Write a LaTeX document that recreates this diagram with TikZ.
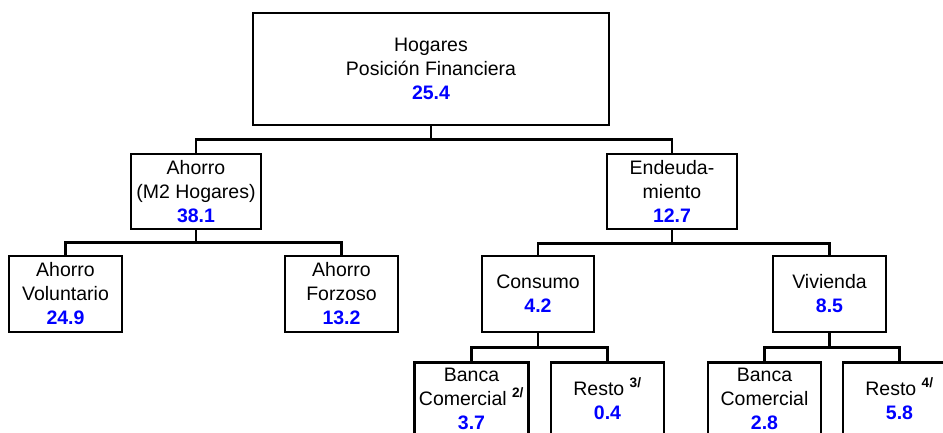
\documentclass[tikz,border=0pt]{standalone}
\usepackage{fontspec}
\setmainfont{Liberation Sans}
\usetikzlibrary{calc}
\definecolor{numblue}{RGB}{0,0,255}
\newcommand{\numv}[1]{{\bfseries\color{numblue}#1}}
\newcommand{\supn}[1]{\textsuperscript{\bfseries #1}}
\begin{document}
\begin{tikzpicture}[x=1pt,y=-1pt,
  box/.style={draw,line width=2.5pt,rectangle,inner sep=0pt,align=center,
    font=\fontsize{19.5}{24}\selectfont},
  link/.style={line width=2.5pt}]
\clip (0,0) rectangle (943,432);
\fill[white] (0,0) rectangle (943,432);
\node[box,minimum width=356pt,minimum height=112pt] (top) at (431,69)
  {Hogares\\Posición Financiera\\\numv{25.4}};
\node[box,minimum width=130pt,minimum height=75pt] (ahorro) at (196,191.5)
  {Ahorro\\(M2 Hogares)\\\numv{38.1}};
\node[box,minimum width=130pt,minimum height=75pt] (endeu) at (672,191.5)
  {Endeuda-\\miento\\\numv{12.7}};
\node[box,minimum width=113pt,minimum height=76pt] (vol) at (65.5,294)
  {Ahorro\\Voluntario\\\numv{24.9}};
\node[box,minimum width=113pt,minimum height=76pt] (forz) at (341.5,294)
  {Ahorro\\Forzoso\\\numv{13.2}};
\node[box,minimum width=112pt,minimum height=76pt] (cons) at (538,294)
  {Consumo\\\numv{4.2}};
\node[box,minimum width=113pt,minimum height=76pt] (viv) at (829.5,294)
  {Vivienda\\\numv{8.5}};
\node[box,minimum width=114pt,minimum height=72pt] (bc1) at (471.5,398.5)
  {Banca\\Comercial \supn{2/}\\\numv{3.7}};
\node[box,minimum width=113pt,minimum height=72pt] (r3) at (607.5,398.5)
  {Resto \supn{3/}\\\numv{0.4}};
\node[box,minimum width=113pt,minimum height=72pt] (bc2) at (764.5,398.5)
  {Banca\\Comercial\\\numv{2.8}};
\node[box,minimum width=113pt,minimum height=72pt] (r4) at (899.5,398.5)
  {Resto \supn{4/}\\\numv{5.8}};
% connectors
\coordinate (j0) at ($(top.south)+(0,13)$);
\draw[link] (top.south) -- (j0);
\draw[link] (ahorro.north) |- (j0) -| (endeu.north);
\coordinate (j1) at ($(ahorro.south)+(0,12)$);
\draw[link] (ahorro.south) -- (j1);
\draw[link] (vol.north) |- (j1) -| (forz.north);
\coordinate (j2) at ($(endeu.south)+(0,13)$);
\draw[link] (endeu.south) -- (j2);
\draw[link] (cons.north) |- (j2) -| (viv.north);
\coordinate (j3) at ($(cons.south)+(0,14)$);
\draw[link] (cons.south) -- (j3);
\draw[link] (bc1.north) |- (j3) -| (r3.north);
\coordinate (j4) at ($(viv.south)+(0,14)$);
\draw[link] (viv.south) -- (j4);
\draw[link] (bc2.north) |- (j4) -| (r4.north);
\end{tikzpicture}
\end{document}
